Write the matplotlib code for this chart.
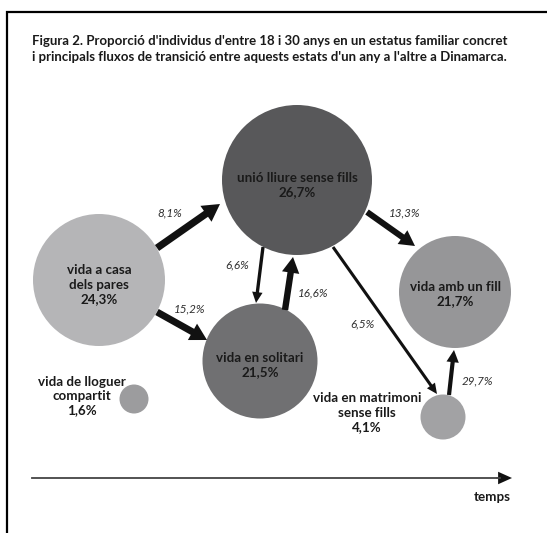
import matplotlib.pyplot as plt
from matplotlib.patches import Circle, FancyArrowPatch

''' DATA '''
# estats familiars i proporció d'individus (%)
estats = ['vida a casa\ndels pares', 'unió lliure sense fills', 'vida en solitari',
          'vida amb un fill', 'vida de lloguer\ncompartit', 'vida en matrimoni\nsense fills']
percentatges = [24.3, 26.7, 21.5, 21.7, 1.6, 4.1]

# fluxos de transició: origen -> destí (índex d'estat) i percentatge
flux_origen = [0, 0, 1, 2, 1, 1, 5]
flux_desti = [1, 2, 2, 1, 3, 5, 3]
flux_pct = [8.1, 15.2, 6.6, 16.6, 13.3, 6.5, 29.7]

titol = ["Figura 2. Proporció d'individus d'entre 18 i 30 anys en un estatus familiar concret",
         "i principals fluxos de transició entre aquests estats d'un any a l'altre a Dinamarca."]

''' LAYOUT (pixel coords, y down) '''
# centre, radi, color de cada cercle
centres = [(99, 280), (297, 180), (260, 361), (455, 292), (134, 399), (443, 417)]
radis = [66, 75, 57.5, 56, 14.5, 22.5]
colors = ['#b5b5b7', '#58585a', '#707072', '#969698', '#9c9c9e', '#a2a2a4']
# centre del bloc de text de cada estat
text_pos = [(99, 285), (297, 185), (260, 365), (455, 294), (82, 396), (367, 413)]

# fletxes: inici, punta, gruix (pt), posició de l'etiqueta
fl_ini = [(157, 248), (157, 312), (263, 247), (285, 310), (367, 212), (333, 247), (449, 395)]
fl_fi = [(220, 204), (207, 340), (256, 303), (293, 257), (415, 246), (437, 394), (454, 350)]
fl_gruix = [5.2, 5.0, 2.4, 4.6, 4.4, 2.2, 3.0]
fl_label = [(170, 213), (190, 309), (237, 265), (313, 293), (405, 213), (362, 324), (477, 381)]

W, H = 547, 533

def fmt(v):
    return f"{v:.1f}".replace('.', ',') + '%'

''' MAIN CODE '''
fig = plt.figure(figsize=(W / 100, H / 100), dpi=100)
ax = fig.add_axes([0, 0, 1, 1])
ax.set_xlim(0, W)
ax.set_ylim(H, 0)
ax.axis('off')

# marc (només superior i esquerre visibles)
ax.plot([7, 7, W], [H, 12, 12], color='black', lw=1.6, solid_joinstyle='miter')

# títol: ajusta la mida perquè ocupi l'amplada de la figura original
renderer = fig.canvas.get_renderer()
for line, y, target in zip(titol, [41, 57], [477, 479]):
    t = ax.text(32, y, line, fontsize=8.0, fontweight='bold', family='Lato',
                ha='left', va='center', color='#1a1a1a')
    w = t.get_window_extent(renderer).width
    t.set_fontsize(8.0 * target / w)

# cercles
for c, r, col in zip(centres, radis, colors):
    ax.add_patch(Circle(c, r, facecolor=col, edgecolor='none'))

# etiquetes dels estats
for nom, pct, (x, y) in zip(estats, percentatges, text_pos):
    ax.text(x, y, nom + '\n' + fmt(pct), ha='center', va='center', fontsize=9.6,
            fontweight='bold', family='Lato', color='#1a1a1a', linespacing=1.25)

# fletxes de transició
for i in range(len(flux_pct)):
    g = fl_gruix[i]
    arr = FancyArrowPatch(fl_ini[i], fl_fi[i],
                          arrowstyle=f'simple,tail_width={g},head_width={g * 2.3 + 2},head_length={g * 1.6 + 4}',
                          mutation_scale=1, facecolor='#111111', edgecolor='none', shrinkA=0, shrinkB=0)
    ax.add_patch(arr)
    lx, ly = fl_label[i]
    ax.text(lx, ly, fmt(flux_pct[i]), ha='center', va='center', fontsize=8.4,
            style='italic', fontweight='normal', family='Lato', color='#2e2e2e')

# eix del temps
ax.plot([32, 500], [478, 478], color='#444444', lw=1.3)
ax.add_patch(FancyArrowPatch((496, 478), (512, 478),
                             arrowstyle='simple,tail_width=0.5,head_width=9,head_length=10',
                             mutation_scale=1, facecolor='#111111', edgecolor='none', shrinkA=0, shrinkB=0))
ax.text(511, 497, 'temps', ha='right', va='center', fontsize=9.6, fontweight='bold',
        family='Lato', color='#1a1a1a')

fig.savefig('out.png', dpi=100)
